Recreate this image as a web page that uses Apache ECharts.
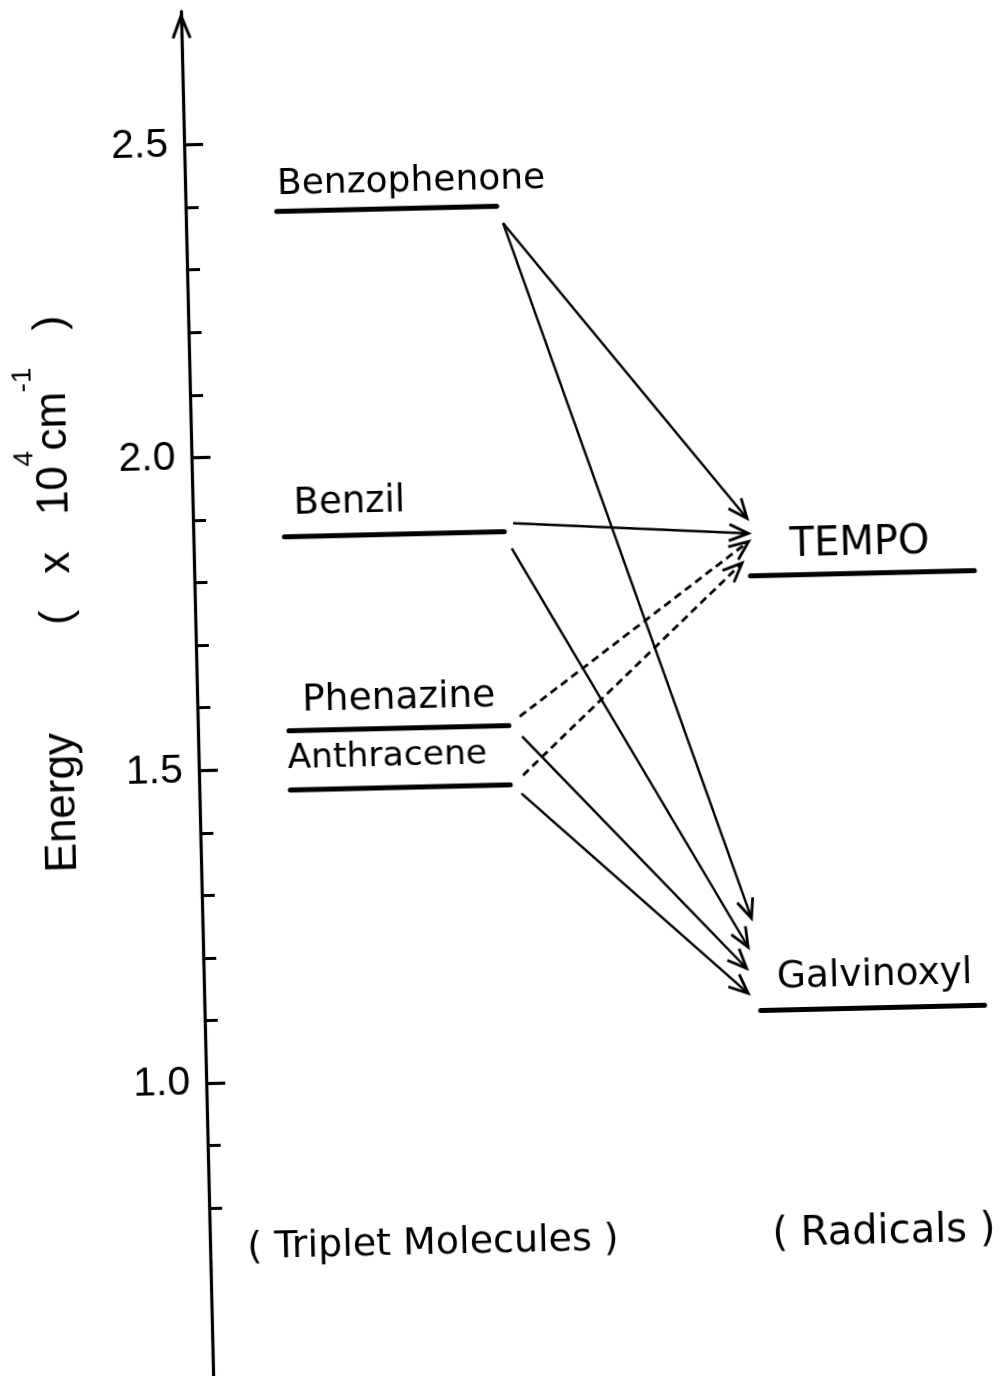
<!DOCTYPE html>
<html>
<head>
<meta charset="utf-8">
<script src="https://cdn.jsdelivr.net/npm/echarts@6/dist/echarts.min.js"></script>
<style>
html, body { margin: 0; padding: 0; background: #fff; overflow: hidden; width: 1006px; height: 1376px; }
#chart { position: absolute; left: 0; top: 0; width: 1006px; height: 1420px;
  transform-origin: 503px 688px; transform: rotate(-1.35deg); }
</style>
</head>
<body>
<div id="chart"></div>
<script>
// ---------------- data (energies in 10^4 cm^-1) ----------------
const tripletNames = ['Benzophenone', 'Benzil', 'Phenazine', 'Anthracene'];
const tripletEnergies = [2.39, 1.87, 1.56, 1.465];
const radicalNames = ['TEMPO', 'Galvinoxyl'];
const radicalEnergies = [1.79, 1.095];

const majorTickValues = [1.0, 1.5, 2.0, 2.5];
const minorTickValues = [0.8, 0.9, 1.1, 1.2, 1.3, 1.4, 1.6, 1.7, 1.8, 1.9, 2.1, 2.2, 2.3, 2.4];

// energy transfer arrows (donor triplet -> radical acceptor)
const arrowFrom   = ['Benzophenone', 'Benzophenone', 'Benzil', 'Benzil', 'Phenazine', 'Phenazine', 'Anthracene', 'Anthracene'];
const arrowTo     = ['TEMPO', 'Galvinoxyl', 'TEMPO', 'Galvinoxyl', 'TEMPO', 'Galvinoxyl', 'TEMPO', 'Galvinoxyl'];
const arrowDashed = [false, false, false, false, true, false, true, false];
const arrowStartEnergy = [2.363, 2.363, 1.883, 1.843, 1.574, 1.542, 1.480, 1.451];
const arrowEndEnergy   = [1.882, 1.243, 1.858, 1.197, 1.845, 1.163, 1.811, 1.123];

const columnTitles = ['( Triplet Molecules )', '( Radicals )'];
const axisTitle = 'Energy';

// ---------------- layout (horizontal diagram units, styles) ----------------
const tripletSpan = [91, 311];
const radicalSpan = [556, 780];
const arrowStartX = [317, 317, 320, 318, 322, 324, 324, 322];
const arrowEndX   = [554, 549, 555, 545, 555, 543, 548, 544];
const labelStyle = {
  'Benzophenone': { dx: 1,  dy: 14, size: 36 },
  'Benzil':       { dx: 10, dy: 19, size: 37 },
  'Phenazine':    { dx: 14, dy: 16, size: 37.5 },
  'Anthracene':   { dx: -2, dy: 19, size: 34.5 },
  'TEMPO':        { dx: 40, dy: 15.5, size: 40 },
  'Galvinoxyl':   { dx: 17, dy: 19, size: 37.5 }
};
const LABEL_FONT = '"DejaVu Sans", "Noto Sans", sans-serif';
const NUM_FONT = '"Liberation Sans", Arial, sans-serif';

// ---------------- build series data ----------------
const levelNames = tripletNames.concat(radicalNames);
const levelData = tripletEnergies.map(e => [tripletSpan[0], tripletSpan[1], e])
  .concat(radicalEnergies.map(e => [radicalSpan[0], radicalSpan[1], e]));

const arrowData = arrowFrom.map((f, i) => [
  arrowStartX[i], arrowStartEnergy[i], arrowEndX[i], arrowEndEnergy[i], arrowDashed[i] ? 1 : 0
]);

const chart = echarts.init(document.getElementById('chart'), null, { renderer: 'canvas' });

const chevron = 'path://M10,0 L20,26 L17.2,27 L10,8.5 L2.8,27 L0,26 Z';

const option = {
  backgroundColor: '#fff',
  animation: false,
  textStyle: { fontFamily: LABEL_FONT, color: '#000' },
  grid: { left: 197, right: 9, top: 4.2, bottom: 31.1, containLabel: false, outerBoundsMode: 'none' },
  xAxis: { type: 'value', min: 0, max: 800, show: false },
  yAxis: [
    {
      type: 'value', min: 0.5, max: 2.713, position: 'left',
      axisLine: { show: true, onZero: false, symbol: ['none', chevron], symbolSize: [20, 27], symbolOffset: [0, -13.5],
        lineStyle: { color: '#000', width: 3.2 } },
      axisTick: { show: true, inside: true, length: 19, customValues: majorTickValues,
        lineStyle: { color: '#000', width: 3.2 } },
      axisLabel: { show: true, customValues: majorTickValues, margin: 16,
        formatter: v => Number(v).toFixed(1),
        fontFamily: NUM_FONT, fontSize: 41, color: '#000' },
      splitLine: { show: false },
      name: '{n|' + axisTitle + '}{g|}{n|(   x   10}{s|4}{n|cm}{s|-1}{n|   )}',
      nameLocation: 'middle',
      nameGap: 115,
      nameMoveOverlap: false,
      nameTextStyle: {
        fontFamily: NUM_FONT, fontSize: 44, color: '#000',
        padding: [0, 0, 0, 226],
        rich: {
          n: { fontFamily: NUM_FONT, fontSize: 44, lineHeight: 44, verticalAlign: 'bottom', color: '#000' },
          s: { fontFamily: NUM_FONT, fontSize: 28, lineHeight: 28, verticalAlign: 'top', color: '#000' },
          g: { width: 108, lineHeight: 66, fontSize: 44 }
        }
      }
    },
    {
      type: 'value', min: 0.5, max: 2.713, position: 'left',
      axisLine: { show: false, onZero: false },
      axisTick: { show: true, inside: true, length: 13, customValues: minorTickValues,
        lineStyle: { color: '#000', width: 3 } },
      axisLabel: { show: false },
      splitLine: { show: false }
    }
  ],
  graphic: [
    { type: 'text', x: 420, y: 1242, style: { text: columnTitles[0], fill: '#000',
      font: '38px ' + LABEL_FONT, align: 'center', verticalAlign: 'middle' } },
    { type: 'text', x: 871, y: 1242, style: { text: columnTitles[1], fill: '#000',
      font: '40px ' + LABEL_FONT, align: 'center', verticalAlign: 'middle' } }
  ],
  series: [
    {
      type: 'custom', name: 'levels', coordinateSystem: 'cartesian2d', yAxisIndex: 0,
      clip: false, silent: true,
      encode: { x: [0, 1], y: 2 },
      data: levelData,
      renderItem: function (params, api) {
        const p0 = api.coord([api.value(0), api.value(2)]);
        const p1 = api.coord([api.value(1), api.value(2)]);
        const nm = levelNames[params.dataIndex];
        const ls = labelStyle[nm];
        return {
          type: 'group',
          children: [
            { type: 'line', shape: { x1: p0[0], y1: p0[1], x2: p1[0], y2: p1[1] },
              style: { stroke: '#000', lineWidth: 5, lineCap: 'round' } },
            { type: 'text', style: { text: nm, x: p0[0] + ls.dx, y: p0[1] - ls.dy - 0.35 * ls.size,
              fill: '#000', font: ls.size + 'px ' + LABEL_FONT, align: 'left', verticalAlign: 'middle' } }
          ]
        };
      }
    },
    {
      type: 'custom', name: 'transfers', coordinateSystem: 'cartesian2d', yAxisIndex: 0,
      clip: false, silent: true,
      encode: { x: [0, 2], y: [1, 3] },
      data: arrowData,
      renderItem: function (params, api) {
        const a = api.coord([api.value(0), api.value(1)]);
        const b = api.coord([api.value(2), api.value(3)]);
        const dashed = api.value(4) === 1;
        const ang = Math.atan2(b[1] - a[1], b[0] - a[0]);
        const L = 21, h = 23 * Math.PI / 180;
        const w1 = [b[0] - L * Math.cos(ang - h), b[1] - L * Math.sin(ang - h)];
        const w2 = [b[0] - L * Math.cos(ang + h), b[1] - L * Math.sin(ang + h)];
        return {
          type: 'group',
          children: [
            { type: 'line', shape: { x1: a[0], y1: a[1], x2: b[0], y2: b[1] },
              style: { stroke: '#000', lineWidth: dashed ? 2.8 : 2.4, lineDash: dashed ? [8, 5] : null, fill: null } },
            { type: 'polyline', shape: { points: [w1, b, w2] },
              style: { stroke: '#000', lineWidth: 2.8, fill: null } }
          ]
        };
      }
    }
  ]
};
chart.setOption(option);
</script>
</body>
</html>
